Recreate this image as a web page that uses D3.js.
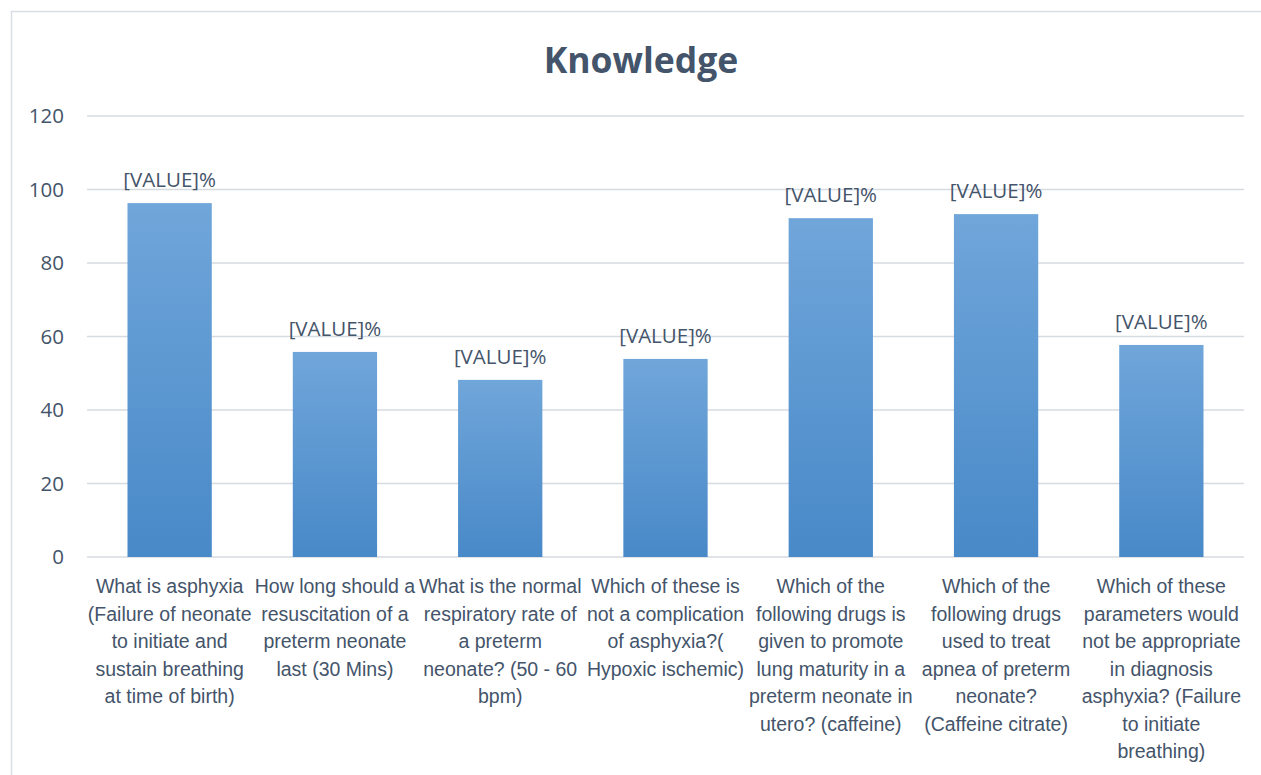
<!DOCTYPE html>
<html>
<head>
<meta charset="utf-8">
<script src="https://cdn.jsdelivr.net/npm/d3@7"></script>
<style>
  body { margin: 0; background: #fff; }
  svg { display: block; }
</style>
</head>
<body>
<svg id="chart" width="1261" height="775"></svg>
<script>
// Chart data
const categories = [
  ["What is asphyxia", "(Failure of neonate", "to initiate and", "sustain breathing", "at time of birth)"],
  ["How long should a", "resuscitation of a", "preterm neonate", "last (30 Mins)"],
  ["What is the normal", "respiratory rate of", "a preterm", "neonate? (50 - 60", "bpm)"],
  ["Which of these is", "not a complication", "of asphyxia?(", "Hypoxic ischemic)"],
  ["Which of the", "following drugs is", "given to promote", "lung maturity in a", "preterm neonate in", "utero? (caffeine)"],
  ["Which of the", "following drugs", "used to treat", "apnea of preterm", "neonate?", "(Caffeine citrate)"],
  ["Which of these", "parameters would", "not be appropriate", "in diagnosis", "asphyxia? (Failure", "to initiate", "breathing)"]
];
const values = [96.3, 55.8, 48.2, 53.9, 92.2, 93.3, 57.7];
const yTicks = [0, 20, 40, 60, 80, 100, 120];
const valueLabel = "[VALUE]%";
const title = "Knowledge";

const svg = d3.select("#chart");
const textColor = "#44546a";

// plot area
const MARGIN = { left: 87, right: 1244, top: 116, bottom: 557 };

// outer chart border (runs off the right and bottom edges)
svg.append("rect")
  .attr("x", 11.5).attr("y", 11.5)
  .attr("width", 1280).attr("height", 800)
  .attr("fill", "none")
  .attr("stroke", "#d9dde3")
  .attr("stroke-width", 1.5);

const x = d3.scaleBand()
  .domain(d3.range(categories.length))
  .range([MARGIN.left, MARGIN.right])
  .paddingInner(0.49)
  .paddingOuter(0.245);

const y = d3.scaleLinear()
  .domain([0, 120])
  .range([MARGIN.bottom, MARGIN.top]);

// gradient for bars
const grad = svg.append("defs").append("linearGradient")
  .attr("id", "barGrad")
  .attr("x1", "0").attr("y1", "0")
  .attr("x2", "0").attr("y2", "1");
grad.append("stop").attr("offset", "0%").attr("stop-color", "#70a6da");
grad.append("stop").attr("offset", "100%").attr("stop-color", "#4889c8");

// gridlines
svg.append("g")
  .selectAll("line")
  .data(yTicks)
  .join("line")
  .attr("x1", MARGIN.left)
  .attr("x2", MARGIN.right)
  .attr("y1", d => y(d))
  .attr("y2", d => y(d))
  .attr("stroke", "#d6dbe2")
  .attr("stroke-width", 1.6);

// y tick labels
svg.append("g")
  .selectAll("text")
  .data(yTicks)
  .join("text")
  .attr("x", 64)
  .attr("y", d => y(d))
  .attr("dy", "0.35em")
  .attr("text-anchor", "end")
  .attr("fill", textColor)
  .style("font-family", "'Open Sans', sans-serif")
  .style("font-size", "20.5px")
  .text(d => d);

// bars
svg.append("g")
  .selectAll("rect")
  .data(values)
  .join("rect")
  .attr("x", (d, i) => x(i))
  .attr("y", d => y(d))
  .attr("width", x.bandwidth())
  .attr("height", d => y(0) - y(d))
  .attr("fill", "url(#barGrad)");

// value labels
svg.append("g")
  .selectAll("text")
  .data(values)
  .join("text")
  .attr("x", (d, i) => x(i) + x.bandwidth() / 2)
  .attr("y", d => y(d) - 16)
  .attr("text-anchor", "middle")
  .attr("fill", textColor)
  .style("font-family", "'Open Sans', sans-serif")
  .style("font-size", "20.5px")
  .text(valueLabel);

// category labels, multi-line
const catG = svg.append("g");
categories.forEach((lines, i) => {
  const t = catG.append("text")
    .attr("x", x(i) + x.bandwidth() / 2)
    .attr("y", 593)
    .attr("text-anchor", "middle")
    .attr("fill", textColor)
    .style("font-family", "'Liberation Sans Narrow', 'Liberation Sans', sans-serif")
    .style("font-size", "19.5px");
  lines.forEach((line, j) => {
    t.append("tspan")
      .attr("x", x(i) + x.bandwidth() / 2)
      .attr("y", 593 + j * 27.5)
      .text(line);
  });
});

// title
svg.append("text")
  .attr("x", 641)
  .attr("y", 73)
  .attr("text-anchor", "middle")
  .attr("fill", textColor)
  .style("font-family", "'Open Sans', sans-serif")
  .style("font-weight", "bold")
  .style("font-size", "35.5px")
  .text(title);
</script>
</body>
</html>
